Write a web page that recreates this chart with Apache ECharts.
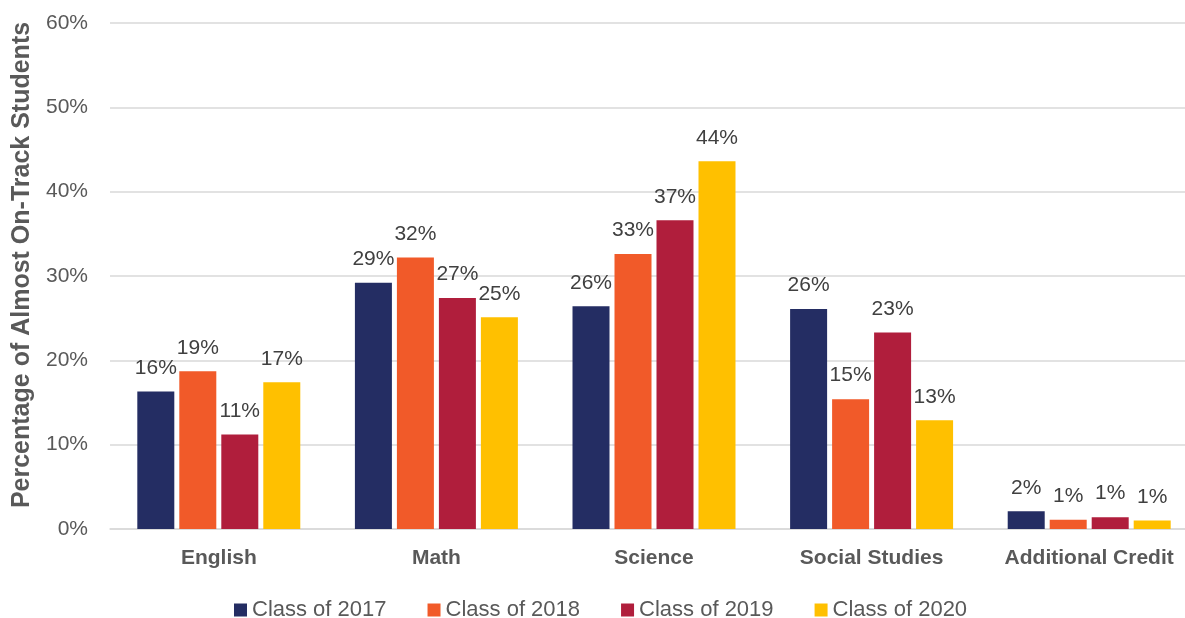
<!DOCTYPE html>
<html>
<head>
<meta charset="utf-8">
<script src="https://cdn.jsdelivr.net/npm/echarts@6/dist/echarts.min.js"></script>
<style>
  html, body { margin: 0; padding: 0; background: #fff; }
  #chart { width: 1185px; height: 618px; }
</style>
</head>
<body>
<div id="chart"></div>
<script>
// Share of almost on-track students by subject, per graduating class (percent)
const subjects = ['English', 'Math', 'Science', 'Social Studies', 'Additional Credit'];
const class2017 = [16.3, 29.2, 26.4, 26.1, 2.1];
const class2018 = [18.7, 32.2, 32.6, 15.4, 1.1];
const class2019 = [11.2, 27.4, 36.6, 23.3, 1.4];
const class2020 = [17.4, 25.1, 43.6, 12.9, 1.0];
const yTicks = [0, 10, 20, 30, 40, 50, 60];

const FONT = '"Liberation Sans", Arial, sans-serif';
const colors = ['#242d63', '#f15a29', '#b01e3c', '#ffc000'];

const seriesDefs = [
  { name: 'Class of 2017', data: class2017 },
  { name: 'Class of 2018', data: class2018 },
  { name: 'Class of 2019', data: class2019 },
  { name: 'Class of 2020', data: class2020 }
];

const chart = echarts.init(document.getElementById('chart'), null, { renderer: 'canvas' });

chart.setOption({
  animation: false,
  color: colors,
  textStyle: { fontFamily: FONT },
  grid: { left: 110, right: -13, top: 23, bottom: 89, containLabel: false, outerBoundsMode: 'none' },
  legend: {
    left: 234,
    top: 599,
    padding: 0,
    itemWidth: 13,
    itemHeight: 13,
    itemGap: 41,
    icon: 'rect',
    textStyle: { fontFamily: FONT, fontSize: 22, color: '#595959' },
    data: seriesDefs.map(s => s.name)
  },
  xAxis: {
    type: 'category',
    data: subjects,
    axisTick: { show: false },
    axisLine: { show: true, lineStyle: { color: '#d9d9d9', width: 1.5 } },
    axisLabel: {
      interval: 0,
      margin: 19,
      fontFamily: FONT,
      fontSize: 21,
      fontWeight: 'bold',
      color: '#595959'
    }
  },
  yAxis: {
    type: 'value',
    min: yTicks[0],
    max: yTicks[yTicks.length - 1],
    interval: 10,
    name: 'Percentage of Almost On-Track Students',
    nameLocation: 'middle',
    nameGap: 75,
    nameTextStyle: {
      fontFamily: FONT,
      fontSize: 25,
      fontWeight: 'bold',
      color: '#595959',
      padding: [0, 0, 0, 22]
    },
    axisLine: { show: false },
    axisTick: { show: false },
    splitLine: { lineStyle: { color: '#d9d9d9', width: 1.5 } },
    axisLabel: {
      margin: 22,
      fontFamily: FONT,
      fontSize: 21,
      color: '#595959',
      formatter: v => v + '%'
    }
  },
  series: seriesDefs.map(s => ({
    name: s.name,
    type: 'bar',
    data: s.data,
    barWidth: 37,
    barGap: '13.5%',
    label: {
      show: true,
      position: 'top',
      distance: 13,
      fontFamily: FONT,
      fontSize: 21,
      color: '#404040',
      formatter: p => Math.round(p.value) + '%'
    }
  }))
});
</script>
</body>
</html>
